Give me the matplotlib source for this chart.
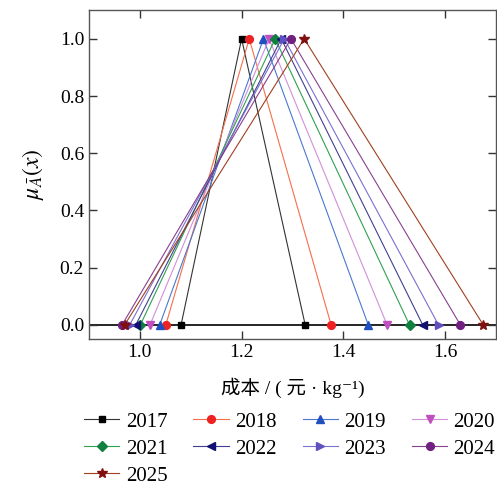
import numpy as np
import matplotlib.pyplot as plt

plt.rcParams['font.family'] = ['Liberation Serif', 'Noto Sans CJK SC', 'DejaVu Sans']
plt.rcParams['mathtext.fontset'] = 'stix'

# 三角模糊数 (a, b, c)
years = ['2017', '2018', '2019', '2020', '2021', '2022', '2023', '2024', '2025']
a = [1.081, 1.051, 1.039, 1.020, 1.001, 0.992, 0.980, 0.965, 0.970]
b = [1.200, 1.215, 1.243, 1.254, 1.266, 1.278, 1.284, 1.297, 1.323]
c = [1.325, 1.376, 1.449, 1.486, 1.530, 1.556, 1.587, 1.630, 1.675]

markers = ['s', 'o', '^', 'v', 'D', '<', '>', 'o', '*']
mcolors = ['#000000', '#ee2222', '#2050c0', '#c050c0', '#108040',
           '#101070', '#6050c0', '#702080', '#801010']
lcolors = ['#333333', '#f4704c', '#4a78d0', '#d090d8', '#30a050',
           '#404090', '#7a70d0', '#8a4090', '#a04020']
msizes = [5, 5.6, 5.6, 5.6, 5, 5.6, 5.6, 5.6, 7]

fig = plt.figure(figsize=(4.97, 4.86), dpi=100)
ax = fig.add_axes([0.179, 0.302, 0.819, 0.677])

ax.axhline(0, color='k', lw=1.2, zorder=1)

handles = []
for i, y in enumerate(years):
    h, = ax.plot([a[i], b[i], c[i]], [0, 1, 0], color=lcolors[i], lw=0.8,
                 marker=markers[i], markersize=msizes[i],
                 markerfacecolor=mcolors[i], markeredgecolor=mcolors[i],
                 label=y, zorder=2)
    handles.append(h)

ax.set_xlim(0.9, 1.7)
ax.set_ylim(-0.05, 1.1)
ax.set_xticks([1.0, 1.2, 1.4, 1.6])
ax.set_yticks([0.0, 0.2, 0.4, 0.6, 0.8, 1.0])
ax.xaxis.set_major_formatter(plt.FormatStrFormatter('%.1f'))
ax.yaxis.set_major_formatter(plt.FormatStrFormatter('%.1f'))
ax.tick_params(direction='in', top=True, right=True, length=6, width=1,
               labelsize=14, color='#333333')
for s in ax.spines.values():
    s.set_color('#555555')
    s.set_linewidth(1.0)

ax.set_xlabel('成本 / ( 元 · kg⁻¹)', fontsize=14, labelpad=12)
ax.set_ylabel(r'$\mu_{\bar{A}}(x)$', fontsize=17, labelpad=10)

# 图例按行排列
order = [0, 4, 8, 1, 5, 2, 6, 3, 7]
ax.legend([handles[k] for k in order], [years[k] for k in order],
          ncol=4, frameon=False, fontsize=15, loc='upper left',
          bbox_to_anchor=(84 / 497, 1 - 412 / 486), bbox_transform=fig.transFigure,
          handlelength=1.7, handletextpad=0.3, columnspacing=1.25,
          labelspacing=0.36, borderaxespad=0, borderpad=0)

fig.savefig('out.png', dpi=100)
